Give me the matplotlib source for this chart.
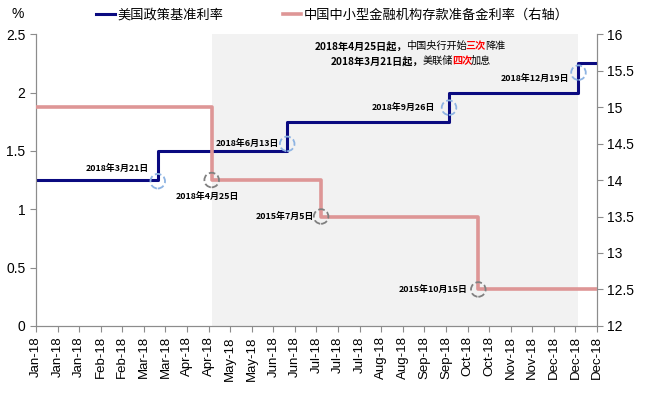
import numpy as np
import pandas as pd
import matplotlib
matplotlib.use('Agg')
import matplotlib.pyplot as plt
import matplotlib.dates as mdates

plt.rcParams['font.family'] = ['Liberation Sans', 'Noto Sans CJK SC', 'DejaVu Sans']
cjk = ['Noto Sans CJK SC', 'DejaVu Sans']

# 美国政策基准利率（左轴）
us_dates = pd.to_datetime(['2018-01-01', '2018-03-21', '2018-06-13', '2018-09-26', '2018-12-19', '2018-12-31'])
us_rate = [1.25, 1.5, 1.75, 2.0, 2.25, 2.25]

# 中国中小型金融机构存款准备金率（右轴）
cn_dates = pd.to_datetime(['2018-01-01', '2018-04-25', '2018-07-05', '2018-10-15', '2018-12-31'])
cn_rate = [15.0, 14.0, 13.5, 12.5, 12.5]

# 标注圆圈
us_mark_dates = pd.to_datetime(['2018-03-21', '2018-06-13', '2018-09-26', '2018-12-19'])
us_mark_vals = [1.24, 1.56, 1.87, 2.17]
us_mark_text = ['2018年3月21日', '2018年6月13日', '2018年9月26日', '2018年12月19日']
cn_mark_dates = pd.to_datetime(['2018-04-25', '2018-07-05', '2018-10-15'])
cn_mark_vals = [14.0, 13.5, 12.5]
cn_mark_text = ['2018年4月25日', '2015年7月5日', '2015年10月15日']

shade_start, shade_end = pd.Timestamp('2018-04-25'), pd.Timestamp('2018-12-19')
tick_dates = pd.date_range('2018-01-01', '2018-12-31', freq='14D')

navy = '#0A0A80'
pink = '#DE9696'
grid_gray = '#8C8C8C'

fig = plt.figure(figsize=(6.52, 3.97), dpi=100)
ax = fig.add_axes([0.0552, 0.179, 0.8604, 0.735])
ax2 = ax.twinx()

ax.axvspan(shade_start, shade_end, color='#F2F2F2', zorder=0, lw=0)
l1, = ax.step(us_dates, us_rate, where='post', color=navy, lw=2.2, label='美国政策基准利率', zorder=3)
l2, = ax2.step(cn_dates, cn_rate, where='post', color=pink, lw=2.6, label='中国中小型金融机构存款准备金利率（右轴）', zorder=3)

ax.scatter(us_mark_dates, us_mark_vals, s=110, facecolors='none', edgecolors='#8EB4E3',
           linestyles='--', linewidths=1.3, zorder=4)
ax2.scatter(cn_mark_dates, cn_mark_vals, s=110, facecolors='none', edgecolors='#808080',
            linestyles='--', linewidths=1.3, zorder=4)

us_offsets = [(-6.5, 9), (-6, 0), (-10, 0), (-6.5, -4.5)]
for d, v, t, off in zip(us_mark_dates, us_mark_vals, us_mark_text, us_offsets):
    ax.annotate(t, xy=(d, v), xytext=off, textcoords='offset points', ha='right', va='center',
                fontsize=6.4, fontweight='bold', family=cjk, zorder=5)
cn_offsets = [(-3, -11.5), (-5, 0), (-8, 0)]
cn_ha = ['center', 'right', 'right']
for d, v, t, off, h in zip(cn_mark_dates, cn_mark_vals, cn_mark_text, cn_offsets, cn_ha):
    ax2.annotate(t, xy=(d, v), xytext=off, textcoords='offset points', ha=h, va='center',
                 fontsize=6.4, fontweight='bold', family=cjk, zorder=5)

# 顶部说明文字（分段着色）
lines = [
    (0.497, 0.959, [('2018年4月25日起，', 'black', 'bold'), ('中国央行开始', 'black', 'normal'),
                    ('三次', 'red', 'bold'), ('降准', 'black', 'normal')]),
    (0.526, 0.908, [('2018年3月21日起，', 'black', 'bold'), ('美联储', 'black', 'normal'),
                    ('四次', 'red', 'bold'), ('加息', 'black', 'normal')]),
]
for x0, y0, parts in lines:
    prev = None
    for s, c, w in parts:
        if prev is None:
            prev = ax.text(x0, y0, s, transform=ax.transAxes, color=c, fontweight=w,
                           fontsize=7.3, family=cjk, va='center', ha='left', zorder=5)
        else:
            prev = ax.annotate(s, xy=(1, 0.5), xycoords=prev, xytext=(-0.8, 0),
                               textcoords='offset points', color=c, fontweight=w,
                               fontsize=7.3, family=cjk, va='center', ha='left', zorder=5)

ax.set_xlim(pd.Timestamp('2018-01-01'), pd.Timestamp('2018-12-31'))
ax.set_ylim(0, 2.5)
ax2.set_ylim(12, 16)
ax.set_yticks(np.arange(0, 2.51, 0.5))
ax.set_yticklabels(['0', '0.5', '1', '1.5', '2', '2.5'])
ax2.set_yticks(np.arange(12, 16.1, 0.5))
ax2.set_yticklabels(['12', '12.5', '13', '13.5', '14', '14.5', '15', '15.5', '16'])
ax.set_xticks(tick_dates)
ax.xaxis.set_major_formatter(mdates.DateFormatter('%b-%y'))
plt.setp(ax.get_xticklabels(), rotation=90)

for a in (ax, ax2):
    a.spines['top'].set_visible(False)
    for sp in ('left', 'right', 'bottom'):
        a.spines[sp].set_color(grid_gray)
    a.tick_params(colors=grid_gray, labelcolor='black', labelsize=10, length=4)
ax.tick_params(axis='x', labelsize=9.5)

fig.text(0.027, 0.965, '%', fontsize=10, ha='center', va='center')
fig.legend([l1, l2], [l1.get_label(), l2.get_label()], loc='center', bbox_to_anchor=(0.51, 0.962),
           ncol=2, frameon=False, prop={'family': cjk, 'size': 9.5}, handlelength=1.4,
           handletextpad=0.2, columnspacing=4.5)

fig.savefig('out.png', dpi=100)
